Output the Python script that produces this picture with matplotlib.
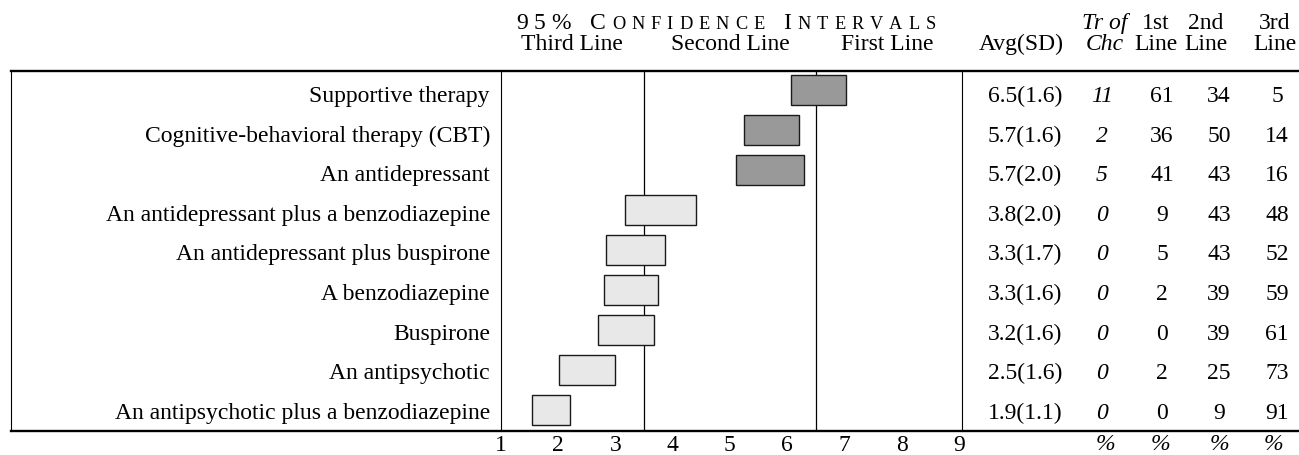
import matplotlib
matplotlib.use("Agg")
import matplotlib.pyplot as plt
from matplotlib.patches import Rectangle

# Data
labels = [
    "Supportive therapy",
    "Cognitive-behavioral therapy (CBT)",
    "An antidepressant",
    "An antidepressant plus a benzodiazepine",
    "An antidepressant plus buspirone",
    "A benzodiazepine",
    "Buspirone",
    "An antipsychotic",
    "An antipsychotic plus a benzodiazepine",
]
ci_low = [6.07, 5.24, 5.11, 3.17, 2.84, 2.81, 2.70, 2.02, 1.55]
ci_high = [7.03, 6.21, 6.29, 4.40, 3.86, 3.75, 3.68, 2.99, 2.21]
avg = [6.5, 5.7, 5.7, 3.8, 3.3, 3.3, 3.2, 2.5, 1.9]
sd = [1.6, 1.6, 2.0, 2.0, 1.7, 1.6, 1.6, 1.6, 1.1]
tr_of_chc = [11, 2, 5, 0, 0, 0, 0, 0, 0]
first_line = [61, 36, 41, 9, 5, 2, 0, 2, 0]
second_line = [34, 50, 43, 43, 43, 39, 39, 25, 9]
third_line = [5, 14, 16, 48, 52, 59, 61, 73, 91]
tier = ["first", "first", "first", "second", "second", "second", "second", "second", "second"]
tier_bounds = [3.5, 6.5]
x_ticks = [1, 2, 3, 4, 5, 6, 7, 8, 9]
zone_names = ["Third Line", "Second Line", "First Line"]
zone_centers = [2.25, 5.0, 7.75]

W, H = 1299, 456
FS = 17
plt.rcParams['font.family'] = ['Liberation Serif', 'DejaVu Serif']

fig = plt.figure(figsize=(W / 100, H / 100), dpi=100)

# pixel-space overlay for the table frame and text columns
frame = fig.add_axes([0, 0, 1, 1])
frame.set_xlim(0, W)
frame.set_ylim(H, 0)
frame.axis('off')

top_y, bot_y = 72, 432
left_px, right_px = 500.7, 962
row_h = (bot_y - top_y) / len(labels)

ax = fig.add_axes([left_px / W, 1 - bot_y / H, (right_px - left_px) / W, (bot_y - top_y) / H])
ax.patch.set_alpha(0)
ax.set_xlim(1, 9.05)
ax.set_ylim(len(labels), 0)

for b in tier_bounds:
    ax.axvline(b, color='black', lw=0.9, zorder=1)

for i in range(len(labels)):
    fc = '#999999' if tier[i] == "first" else '#e8e8e8'
    ax.add_patch(Rectangle((ci_low[i], i + 0.48 - 0.37), ci_high[i] - ci_low[i], 0.74,
                           facecolor=fc, edgecolor='#1a1a1a', lw=1.0, zorder=2))

for s in ['top', 'bottom']:
    ax.spines[s].set_visible(False)
for s in ['left', 'right']:
    ax.spines[s].set_linewidth(0.8)
ax.set_yticks([])
ax.set_xticks(x_ticks)
ax.tick_params(axis='x', length=0, pad=2.5, labelsize=FS)

# outer frame lines
frame.plot([11, W], [top_y, top_y], color='black', lw=1.7)
frame.plot([11, W], [bot_y, bot_y], color='black', lw=1.7)
frame.plot([11, 11], [top_y, bot_y], color='black', lw=0.8)

val_x = [1025, 1102, 1162, 1219, 1277]
hdr_x = [1021, 1105, 1156, 1206, 1275]
pct_x = [1105, 1160, 1219, 1273]

for i, name in enumerate(labels):
    yc = 96.5 + 39.6 * i
    frame.text(490, yc, name, ha='right', va='center', fontsize=FS)
    frame.text(val_x[0], yc, f"{avg[i]:.1f}({sd[i]:.1f})", ha='center', va='center', fontsize=FS)
    frame.text(val_x[1], yc, str(tr_of_chc[i]), ha='center', va='center', fontsize=FS, style='italic')
    frame.text(val_x[2], yc, str(first_line[i]), ha='center', va='center', fontsize=FS)
    frame.text(val_x[3], yc, str(second_line[i]), ha='center', va='center', fontsize=FS)
    frame.text(val_x[4], yc, str(third_line[i]), ha='center', va='center', fontsize=FS)

# column headers
base1, base2 = 29, 50
frame.text(hdr_x[0], base2, "Avg(SD)", ha='center', va='baseline', fontsize=FS)
frame.text(hdr_x[1], base1, "Tr of", ha='center', va='baseline', fontsize=FS, style='italic')
frame.text(hdr_x[1], base2, "Chc", ha='center', va='baseline', fontsize=FS, style='italic')
for x, top in zip(hdr_x[2:], ["1st", "2nd", "3rd"]):
    frame.text(x, base1, top, ha='center', va='baseline', fontsize=FS)
    frame.text(x, base2, "Line", ha='center', va='baseline', fontsize=FS)
for x in pct_x:
    frame.text(x, 445, "%", ha='center', va='center', fontsize=FS, style='italic')

# zone names under the title
for name, c in zip(zone_names, zone_centers):
    xp = ax.transData.transform((c, 0))[0]
    frame.text(xp, base2, name, ha='center', va='baseline', fontsize=FS)

# letter-spaced small caps title
renderer = fig.canvas.get_renderer()
words = ["95%", "Confidence", "Intervals"]
pieces = []
for w in words:
    for k, ch in enumerate(w):
        small = ch.isalpha() and k > 0
        pieces.append((ch.upper(), FS * 0.78 if small else FS))
    pieces.append((" ", None))
pieces = pieces[:-1]
track, gap = 6.0, 13
arts = []
x = 0.0
for ch, size in pieces:
    if size is None:
        x += gap
        continue
    t = frame.text(0, base1, ch, fontsize=size, va='baseline', ha='left')
    wpx = t.get_window_extent(renderer).width
    arts.append((t, x))
    x += wpx + track
total = x - track
x0 = ax.transData.transform((5.0, 0))[0] - total / 2 - 4
for t, off in arts:
    t.set_x(x0 + off)

fig.savefig("out.png", dpi=100)
